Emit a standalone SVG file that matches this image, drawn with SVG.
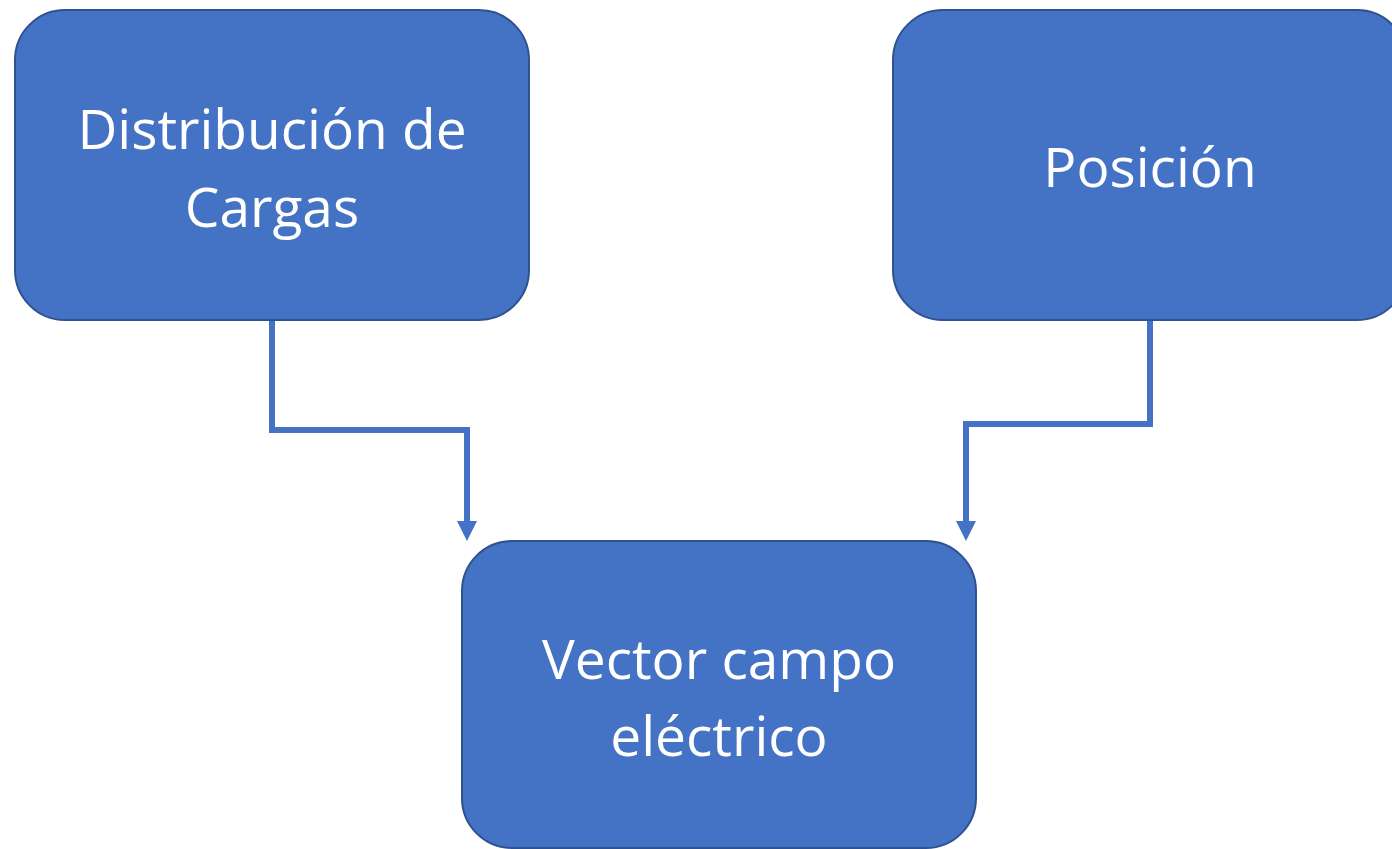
<svg xmlns="http://www.w3.org/2000/svg" width="1392" height="849" viewBox="0 0 1392 849">
<defs>
<style>
.box{fill:#4472C4;stroke:#2F528F;stroke-width:2}
.lbl{fill:#FFFFFF;font-family:"Open Sans","Liberation Sans",sans-serif;font-size:55px;text-anchor:middle}
.conn{fill:none;stroke:#4472C4;stroke-width:6}
</style>
<marker id="arr" markerWidth="20" markerHeight="20" refX="0" refY="10" orient="auto" markerUnits="userSpaceOnUse" viewBox="0 0 20 20">
<path d="M0,0 L20,10 L0,20 Z" fill="#4472C4"/>
</marker>
</defs>
<rect width="1392" height="849" fill="#FFFFFF"/>
<g id="connectors">
<path class="conn" d="M272,320 L272,430 L467,430 L467,521" marker-end="url(#arr)"/>
<path class="conn" d="M1150,320 L1150,424 L966,424 L966,521" marker-end="url(#arr)"/>
</g>
<g id="node-distribucion">
<rect class="box" x="15" y="10" width="514" height="310" rx="50" ry="50"/>
<text class="lbl" x="272" y="149">Distribución de</text>
<text class="lbl" x="272" y="227">Cargas</text>
</g>
<g id="node-posicion">
<rect class="box" x="893" y="10" width="514" height="310" rx="50" ry="50"/>
<text class="lbl" x="1150" y="187">Posición</text>
</g>
<g id="node-vector">
<rect class="box" x="462" y="541" width="514" height="307" rx="50" ry="50"/>
<text class="lbl" x="719" y="679">Vector campo</text>
<text class="lbl" x="719" y="756">eléctrico</text>
</g>
</svg>
